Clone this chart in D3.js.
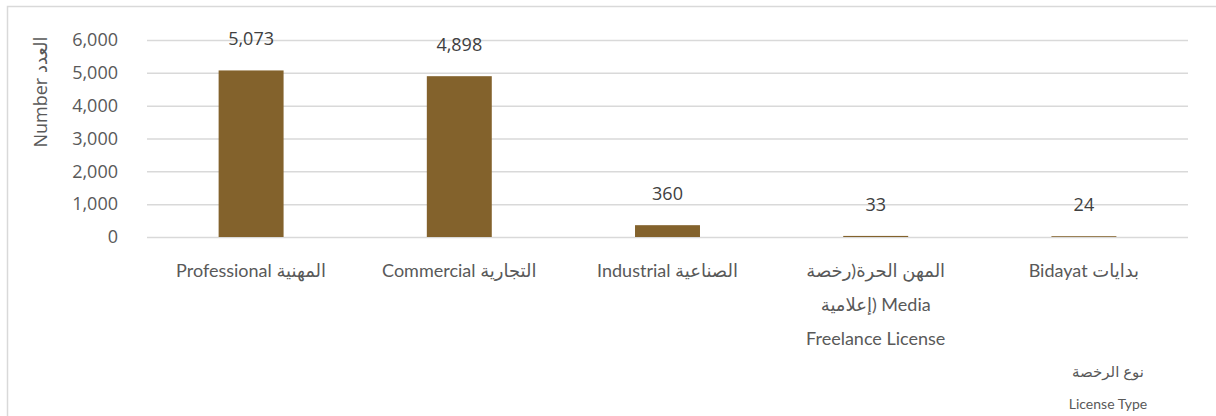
<!DOCTYPE html>
<html>
<head>
<meta charset="utf-8">
<script src="https://cdn.jsdelivr.net/npm/d3@7"></script>
<style>
  html, body { margin: 0; padding: 0; background: #fff; }
  svg { display: block; }
</style>
</head>
<body>
<script>
const categories = ["Professional المهنية", "Commercial التجارية", "Industrial الصناعية", "Media", "Bidayat  بدايات"];
const categoryLines = [
  ["Professional المهنية"],
  ["Commercial التجارية"],
  ["Industrial الصناعية"],
  ["المهن الحرة(رخصة", "إعلامية) Media", "Freelance License"],
  ["Bidayat  بدايات"]
];
const values = [5073, 4898, 360, 33, 24];
const yTicks = [0, 1000, 2000, 3000, 4000, 5000, 6000];
const yTitle = "Number العدد";
const xTitleLines = ["نوع الرخصة", "License Type"];

const W = 1216, H = 416;
const svg = d3.select("body").append("svg").attr("width", W).attr("height", H);

// chart border
svg.append("rect").attr("x", 7.5).attr("y", 6.5).attr("width", W + 10).attr("height", H + 10)
  .attr("fill", "#fff").attr("stroke", "#d9d9d9").attr("stroke-width", 1.5);

const x = d3.scaleBand().domain(categories).range([147, 1188]).paddingInner(0.688).paddingOuter(0.344);
const y = d3.scaleLinear().domain([0, 6000]).range([237, 40]);

// gridlines + tick labels via axis
const yAxis = d3.axisLeft(y).tickValues(yTicks).tickSize(-(1188 - 147)).tickPadding(29).tickFormat(d3.format(","));
const gy = svg.append("g").attr("transform", "translate(147,0)").call(yAxis);
gy.select(".domain").remove();
gy.selectAll(".tick line").attr("stroke", "#d9d9d9").attr("stroke-width", 1.5);
gy.selectAll(".tick text").attr("fill", "#595959").style("font-family", "'Open Sans', sans-serif").style("font-size", "18px");

// bars
svg.append("g").selectAll("rect").data(values).join("rect")
  .attr("x", (d, i) => x(categories[i]))
  .attr("width", x.bandwidth())
  .attr("y", d => y(d))
  .attr("height", d => y(0) - y(d))
  .attr("fill", "#83622c");

// value labels
svg.append("g").selectAll("text").data(values).join("text")
  .attr("x", (d, i) => x(categories[i]) + x.bandwidth() / 2)
  .attr("y", d => y(d) - 25)
  .attr("text-anchor", "middle")
  .attr("fill", "#404040")
  .style("font-family", "'Open Sans', sans-serif")
  .style("font-size", "18px")
  .text(d => d3.format(",")(d));

// category labels
const cg = svg.append("g");
categoryLines.forEach((lines, i) => {
  const t = cg.append("text")
    .attr("text-anchor", "middle")
    .attr("fill", "#595959")
    .style("font-family", "Lato, 'DejaVu Sans', sans-serif")
    .style("font-size", "18px");
  lines.forEach((ln, j) => {
    t.append("tspan").attr("x", x(categories[i]) + x.bandwidth() / 2)
      .attr("y", 277 + j * 34).text(ln);
  });
});

// y title
svg.append("text")
  .attr("transform", "translate(47,92) rotate(-90)")
  .attr("text-anchor", "middle")
  .attr("fill", "#595959")
  .style("font-family", "'Open Sans', 'DejaVu Sans', sans-serif")
  .style("font-size", "18px")
  .text(yTitle);

// x title
const xt = svg.append("text").attr("text-anchor", "middle").attr("fill", "#595959")
  .style("font-family", "Lato, 'DejaVu Sans', sans-serif");
xTitleLines.forEach((ln, j) => {
  xt.append("tspan").attr("x", 1108).attr("y", 377 + j * 32)
    .style("font-size", j === 0 ? "15px" : "14px").text(ln);
});
</script>
</body>
</html>
